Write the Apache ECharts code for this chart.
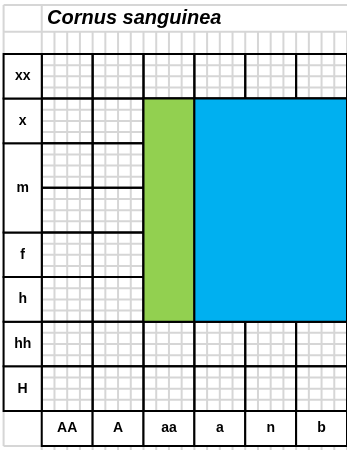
<!DOCTYPE html>
<html>
<head>
<meta charset="utf-8">
<script src="https://cdn.jsdelivr.net/npm/echarts@6/dist/echarts.min.js"></script>
<style>
  html, body { margin: 0; padding: 0; background: #fff; }
  #chart { width: 347px; height: 450px; }
</style>
</head>
<body>
<div id="chart"></div>
<script>
// table content
const titleText = 'Cornus sanguinea'
const rowLabels = ['H', 'hh', 'h', 'f', 'm', 'x', 'xx'] // bottom to top
const rowSpans = [1, 1, 1, 1, 2, 1, 1]
const colLabels = ['AA', 'A', 'aa', 'a', 'n', 'b']
const greenCols = ['aa']
const blueCols = ['a', 'n', 'b']
const filledRows = ['h', 'f', 'm', 'x']

// layout in axis units
const LABEL_COL = -0.75
const LABEL_ROW = -0.785
const HEAD_ROW = 8.5
const TOP = 9.1
const Y_MIN = -0.875
const GRAY = '#d6d6d6'
const FONT = 'Liberation Sans, Arial, sans-serif'

const rowBounds = []
let acc = 0
rowSpans.forEach(s => {
  rowBounds.push([acc, acc + s])
  acc += s
})
const totalRows = acc

const block = (cols, rows) => {
  const ci = cols.map(c => colLabels.indexOf(c))
  const ri = rows.map(r => rowLabels.indexOf(r))
  return [
    Math.min(...ci), Math.max(...ci) + 1,
    Math.min(...ri.map(i => rowBounds[i][0])), Math.max(...ri.map(i => rowBounds[i][1]))
  ]
}

const chart = echarts.init(document.getElementById('chart'))

const rectOf = (api, x0, x1, y0, y1) => {
  const a = api.coord([x0, y1])
  const b = api.coord([x1, y0])
  return { x: a[0], y: a[1], width: b[0] - a[0], height: b[1] - a[1] }
}

const cellSeries = (data, style, labels) => ({
  type: 'custom',
  clip: false,
  silent: true,
  data: data,
  renderItem (params, api) {
    const shape = rectOf(api, api.value(0), api.value(1), api.value(2), api.value(3))
    const children = [{ type: 'rect', shape: shape, style: style }]
    if (labels) {
      children.push({
        type: 'text',
        style: {
          text: labels[params.dataIndex],
          x: shape.x + shape.width / 2,
          y: shape.y + shape.height / 2,
          align: 'center',
          verticalAlign: 'middle',
          font: 'bold 14px ' + FONT,
          fill: '#000'
        }
      })
    }
    return { type: 'group', children: children }
  }
})

const blackCell = { fill: 'rgba(0,0,0,0)', stroke: '#000', lineWidth: 2 }
const whiteCell = { fill: '#fff', stroke: '#000', lineWidth: 2 }

const dataCells = []
colLabels.forEach((c, i) => {
  for (let k = 0; k < totalRows; k++) dataCells.push([i, i + 1, k, k + 1])
})

chart.setOption({
  animation: false,
  title: {
    text: titleText,
    left: 47,
    top: 8,
    padding: 0,
    textStyle: {
      fontFamily: FONT,
      fontSize: 20,
      fontStyle: 'italic',
      fontWeight: 'bold',
      color: '#000'
    }
  },
  grid: {
    left: 3.6,
    width: 345.6,
    top: 4.9,
    height: 445.1
  },
  xAxis: { type: 'value', min: LABEL_COL, max: colLabels.length, show: false },
  yAxis: { type: 'value', min: Y_MIN, max: TOP, show: false },
  series: [
    // light sheet grid
    {
      type: 'custom',
      clip: false,
      silent: true,
      data: [[0, 0]],
      renderItem (params, api) {
        const lines = []
        const line = (x0, y0, x1, y1) => {
          const a = api.coord([x0, y0])
          const b = api.coord([x1, y1])
          lines.push({
            type: 'line',
            shape: { x1: a[0], y1: a[1], x2: b[0], y2: b[1] },
            style: { stroke: GRAY, lineWidth: 2 }
          })
        }
        for (let v = 0; v <= colLabels.length; v += 0.25) line(v, Y_MIN, v, HEAD_ROW)
        for (let h = 0; h <= totalRows; h += 0.25) line(0, h, colLabels.length, h)
        line(0, HEAD_ROW, 0, TOP)
        line(LABEL_COL, LABEL_ROW, LABEL_COL, TOP)
        line(LABEL_COL, HEAD_ROW, colLabels.length, HEAD_ROW)
        line(LABEL_COL, TOP, colLabels.length, TOP)
        line(LABEL_COL, LABEL_ROW, 0, LABEL_ROW)
        return { type: 'group', children: lines }
      }
    },
    cellSeries(dataCells, blackCell),
    cellSeries([block(greenCols, filledRows)], { fill: '#92d050', stroke: '#000', lineWidth: 2 }),
    cellSeries([block(blueCols, filledRows)], { fill: '#00b0f0', stroke: '#000', lineWidth: 2 }),
    cellSeries(rowLabels.map((r, i) => [LABEL_COL, 0, rowBounds[i][0], rowBounds[i][1]]), whiteCell, rowLabels),
    cellSeries(colLabels.map((c, i) => [i, i + 1, LABEL_ROW, 0]), whiteCell, colLabels)
  ]
})
</script>
</body>
</html>
